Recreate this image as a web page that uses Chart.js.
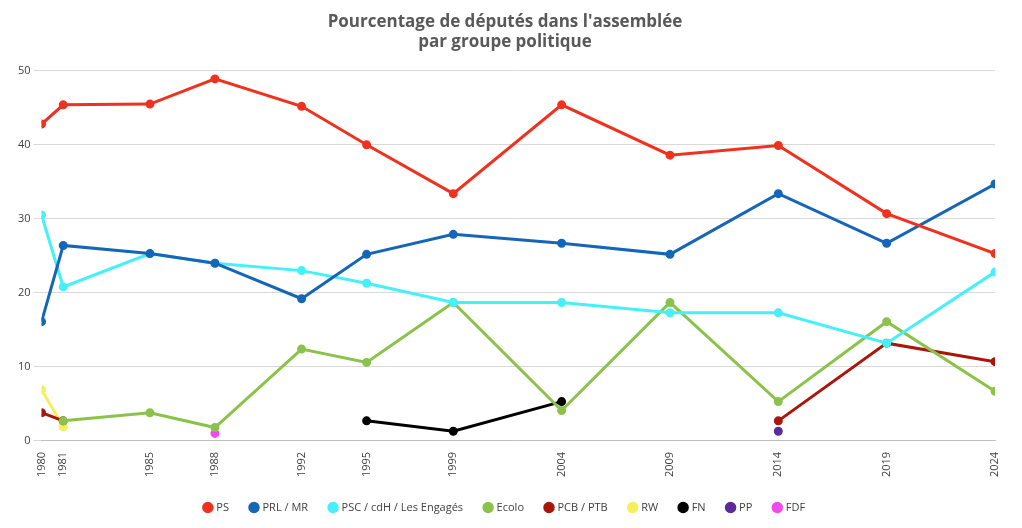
<!DOCTYPE html>
<html><head><meta charset="utf-8">
<script src="https://cdn.jsdelivr.net/npm/chart.js@4"></script>
<style>html,body{margin:0;background:#fff}#w{width:1022px;height:528px}</style>
</head><body><div id="w"><canvas id="c"></canvas></div>
<script>
const years=[1980,1981,1985,1988,1992,1995,1999,2004,2009,2014,2019,2024];
const PS=[42.8,45.4,45.5,48.9,45.2,40.0,33.4,45.4,38.6,39.9,30.7,25.3];
const PRL=[16.1,26.4,25.3,24.0,19.2,25.2,27.9,26.7,25.2,33.4,26.7,34.7];
const PSC=[30.5,20.8,25.3,24.0,23.0,21.3,18.7,18.7,17.3,17.3,13.2,22.8];
const ECOLO=[null,2.7,3.8,1.8,12.4,10.6,18.7,4.1,18.7,5.3,16.1,6.7];
const PCB=[3.8,2.7,null,null,null,null,null,null,null,2.7,13.2,10.7];
const RW=[6.9,1.9,null,null,null,null,null,null,null,null,null,null];
const FN=[null,null,null,null,null,2.7,1.3,5.3,null,null,null,null];
const PP=[null,null,null,null,null,null,null,null,null,1.3,null,null];
const FDF=[null,null,null,1.0,null,null,null,null,null,null,null,null];
const series=[["PS",PS,"#f0311e"],["PRL / MR",PRL,"#1565b8"],["PSC / cdH / Les Engagés",PSC,"#45f0fa"],["Ecolo",ECOLO,"#8bc34a"],["PCB / PTB",PCB,"#a8160c"],["RW",RW,"#f5f05a"],["FN",FN,"#000000"],["PP",PP,"#5b2a9b"],["FDF",FDF,"#f04bf0"]];
new Chart(document.getElementById('c'),{type:'line',
data:{datasets:series.map(([l,v,c])=>({label:l,data:years.map((y,i)=>({x:y,y:v[i]})),borderColor:c,backgroundColor:c,borderWidth:3,pointRadius:3,pointHoverRadius:4,spanGaps:false}))},
options:{responsive:true,maintainAspectRatio:false,animation:false,
layout:{padding:{left:15,right:27,top:12,bottom:5}},
plugins:{title:{display:true,text:["Pourcentage de députés dans l'assemblée","par groupe politique"],color:'#595959',font:{family:'Open Sans',size:17,weight:'bold'},padding:{bottom:18}},
legend:{position:'bottom',labels:{usePointStyle:true,pointStyle:'circle',boxWidth:6,boxHeight:6,color:'#404040',font:{family:'Open Sans',size:11},padding:22}}},
scales:{x:{type:'linear',min:1980,max:2024,afterBuildTicks:a=>{a.ticks=years.map(v=>({value:v}))},
ticks:{maxRotation:90,minRotation:90,color:'#404040',font:{family:'Open Sans',size:11},callback:v=>String(v)},grid:{display:false},border:{color:'#bfbfbf'}},
y:{min:0,max:50,ticks:{stepSize:10,color:'#404040',font:{family:'Open Sans',size:11}},grid:{color:'#d9d9d9'},border:{display:false}}}}});
</script></body></html>
